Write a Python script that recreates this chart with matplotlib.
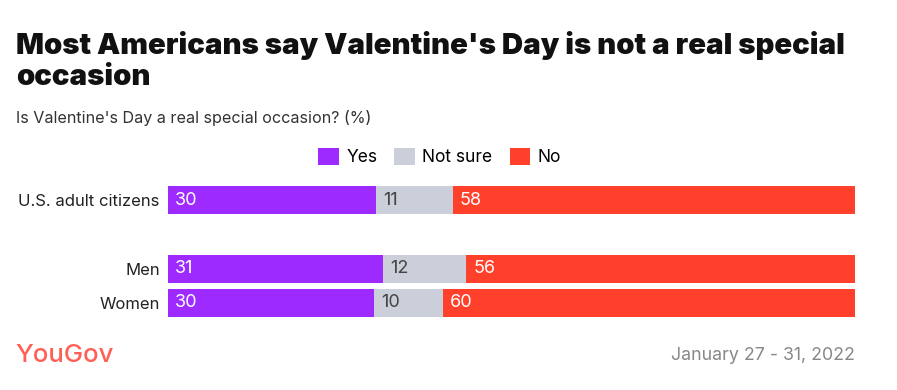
import matplotlib.pyplot as plt
import numpy as np

plt.rcParams['font.family'] = ['Inter', 'DejaVu Sans']

# Data
groups = ["U.S. adult citizens", "Men", "Women"]
yes = [30, 31, 30]
not_sure = [11, 12, 10]
no = [58, 56, 60]
series_names = ["Yes", "Not sure", "No"]
colors = ["#9d2bff", "#cbcfd9", "#ff412c"]
text_colors = ["white", "#444444", "white"]
rows = [0, 2, 3]

fig = plt.figure(figsize=(8.97, 3.9), dpi=100)
ax = fig.add_axes([168 / 897, 1 - 320 / 390, (855 - 168) / 897, (320 - 183) / 390])

vals = np.array([yes, not_sure, no], dtype=float)
totals = vals.sum(axis=0)
shares = vals / totals * 100

left = np.zeros(len(groups))
for i in range(3):
    ax.barh(rows, shares[i], left=left, height=0.82, color=colors[i],
            label=series_names[i])
    for r, l, w, v in zip(rows, left, shares[i], vals[i]):
        ax.text(l + 1.0, r, f"{int(v)}", va="center", ha="left",
                color=text_colors[i], fontsize=13)
    left += shares[i]

ax.set_xlim(0, 100)
ax.set_ylim(3.5, -0.5)
ax.set_yticks(rows)
ax.set_yticklabels(groups, fontsize=12, color="#222222")
ax.set_xticks([])
ax.tick_params(axis="y", length=0, pad=6)
for s in ax.spines.values():
    s.set_visible(False)

fig.legend(loc="center", bbox_to_anchor=(0.49, 1 - 157 / 390), ncol=3,
           frameon=False, fontsize=12.5, handlelength=1.2, handleheight=1.2,
           columnspacing=1.0, handletextpad=0.4)

fig.text(16 / 897, 1 - 61 / 390, "Most Americans say Valentine's Day is not a real special\noccasion",
         fontsize=21.1, fontweight=900, color="#111111", va="center",
         linespacing=1.15)
fig.text(16 / 897, 1 - 118 / 390, "Is Valentine's Day a real special occasion? (%)",
         fontsize=11.6, color="#333333", va="center")
fig.text(15 / 897, 1 - 355 / 390, "YouGov", fontsize=18.5, color="#ff5f55",
         va="center", fontweight="medium")
fig.text(855 / 897, 1 - 356 / 390, "January 27 - 31, 2022", fontsize=12.8,
         color="#888888", va="center", ha="right")

fig.savefig("out.png", dpi=100)
